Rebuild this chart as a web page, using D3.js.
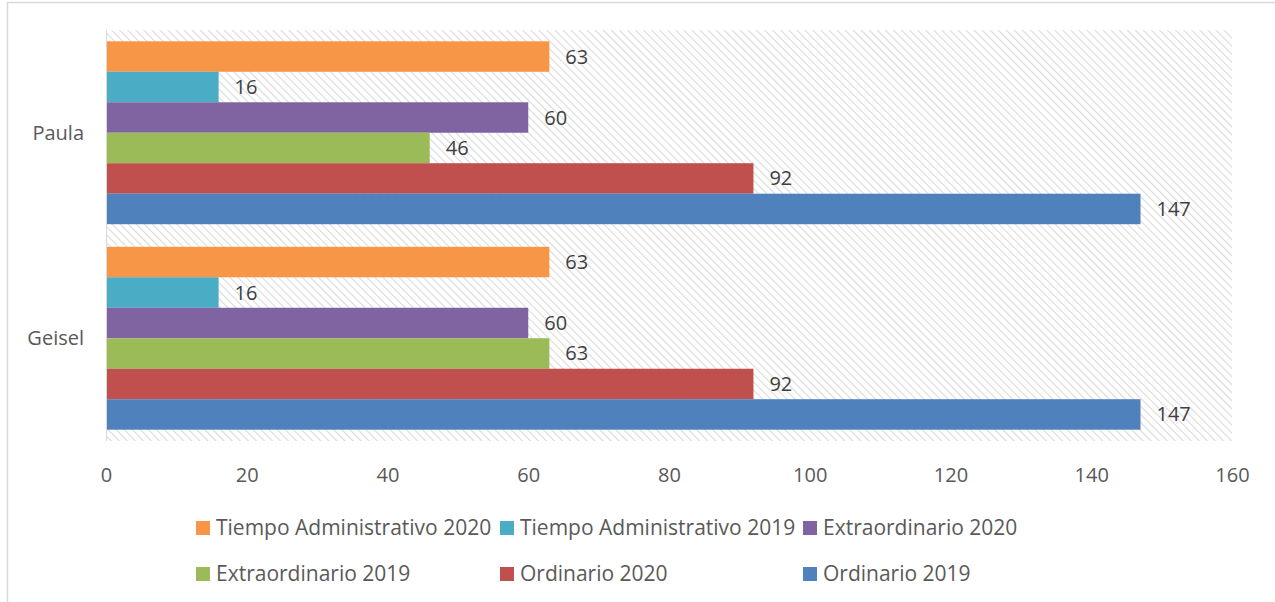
<!DOCTYPE html>
<html>
<head>
<meta charset="utf-8">
<script src="https://cdn.jsdelivr.net/npm/d3@7"></script>
<style>
  body { margin: 0; background: #fff; }
  text { font-family: "Open Sans", "Noto Sans", sans-serif; }
</style>
</head>
<body>
<div id="container"></div>
<script>
"use strict";

var categories = ["Paula", "Geisel"];
var seriesNames = ["Tiempo Administrativo 2020", "Tiempo Administrativo 2019", "Extraordinario 2020",
                   "Extraordinario 2019", "Ordinario 2020", "Ordinario 2019"];
var seriesColors = ["#F79646", "#4BACC6", "#8064A2", "#9BBB59", "#C0504D", "#4F81BD"];
var paulaValues = [63, 16, 60, 46, 92, 147];
var geiselValues = [63, 16, 60, 63, 92, 147];
var xTicks = [0, 20, 40, 60, 80, 100, 120, 140, 160];

var values = [paulaValues, geiselValues];

var width = 1275, height = 602;
var plotLeft = 106, plotRight = 1232, plotTop = 30, plotBottom = 441;

var svg = d3.select("#container").append("svg").attr("width", width).attr("height", height);

// hatch pattern for plot area (wide downward diagonal)
var defs = svg.append("defs");
var pat = defs.append("pattern").attr("id", "hatch").attr("patternUnits", "userSpaceOnUse")
    .attr("width", 5.7).attr("height", 5.7).attr("patternTransform", "rotate(-45)");
pat.append("rect").attr("width", 5.7).attr("height", 5.7).attr("fill", "#fff");
pat.append("line").attr("x1", 0).attr("y1", 0).attr("x2", 0).attr("y2", 5.7)
    .attr("stroke", "#dadada").attr("stroke-width", 2.2);

// chart border
svg.append("rect").attr("x", 7.5).attr("y", 2.5).attr("width", 1300).attr("height", 650)
    .attr("fill", "none").attr("stroke", "#d9d9d9").attr("stroke-width", 1.5);

var x = d3.scaleLinear().domain([0, 160]).range([plotLeft, plotRight]);
var y0 = d3.scaleBand().domain(categories).range([plotTop, plotBottom]).paddingInner(0.11).paddingOuter(0.055);
var y1 = d3.scaleBand().domain(seriesNames).range([0, y0.bandwidth()]);

svg.append("rect").attr("x", plotLeft).attr("y", plotTop).attr("width", plotRight - plotLeft).attr("height", plotBottom - plotTop)
    .attr("fill", "url(#hatch)");

var groups = svg.selectAll("g.cat").data(categories).enter().append("g").attr("class", "cat")
    .attr("transform", function (d) { return "translate(0," + y0(d) + ")"; });

groups.selectAll("rect").data(function (d, i) {
    return values[i].map(function (v, j) { return { name: seriesNames[j], value: v, color: seriesColors[j] }; });
}).enter().append("rect")
    .attr("x", x(0))
    .attr("y", function (d) { return y1(d.name); })
    .attr("width", function (d) { return x(d.value) - x(0); })
    .attr("height", y1.bandwidth())
    .attr("fill", function (d) { return d.color; });

groups.selectAll("text.val").data(function (d, i) {
    return values[i].map(function (v, j) { return { name: seriesNames[j], value: v }; });
}).enter().append("text").attr("class", "val")
    .attr("x", function (d) { return x(d.value) + 16; })
    .attr("y", function (d) { return y1(d.name) + y1.bandwidth() / 2; })
    .attr("dy", "0.35em")
    .attr("font-size", 20).attr("fill", "#404040")
    .text(function (d) { return d.value; });

// left axis line
svg.append("line").attr("x1", plotLeft + 0.5).attr("x2", plotLeft + 0.5).attr("y1", plotTop).attr("y2", plotBottom)
    .attr("stroke", "#d9d9d9").attr("stroke-width", 1);

// category labels
svg.selectAll("text.cat").data(categories).enter().append("text").attr("class", "cat")
    .attr("x", 84).attr("y", function (d) { return y0(d) + y0.bandwidth() / 2; })
    .attr("dy", "0.35em").attr("text-anchor", "end")
    .attr("font-size", 20).attr("fill", "#595959")
    .text(function (d) { return d; });

// x axis tick labels
var xAxis = svg.append("g").attr("transform", "translate(0," + plotBottom + ")")
    .call(d3.axisBottom(x).tickValues(xTicks).tickSize(0).tickPadding(27));
xAxis.select(".domain").remove();
xAxis.selectAll("text").attr("font-size", 20).attr("fill", "#595959")
    .attr("font-family", "\"Open Sans\", \"Noto Sans\", sans-serif");

// legend
var legCols = [196, 500, 803];
var legRows = [528, 574];
var legend = svg.selectAll("g.leg").data(seriesNames).enter().append("g").attr("class", "leg")
    .attr("transform", function (d, i) { return "translate(" + legCols[i % 3] + "," + legRows[Math.floor(i / 3)] + ")"; });
legend.append("rect").attr("x", 0).attr("y", -7).attr("width", 14).attr("height", 14)
    .attr("fill", function (d, i) { return seriesColors[i]; });
legend.append("text").attr("x", 20).attr("dy", "0.35em")
    .attr("font-size", 21).attr("fill", "#595959")
    .text(function (d) { return d; });
</script>
</body>
</html>
